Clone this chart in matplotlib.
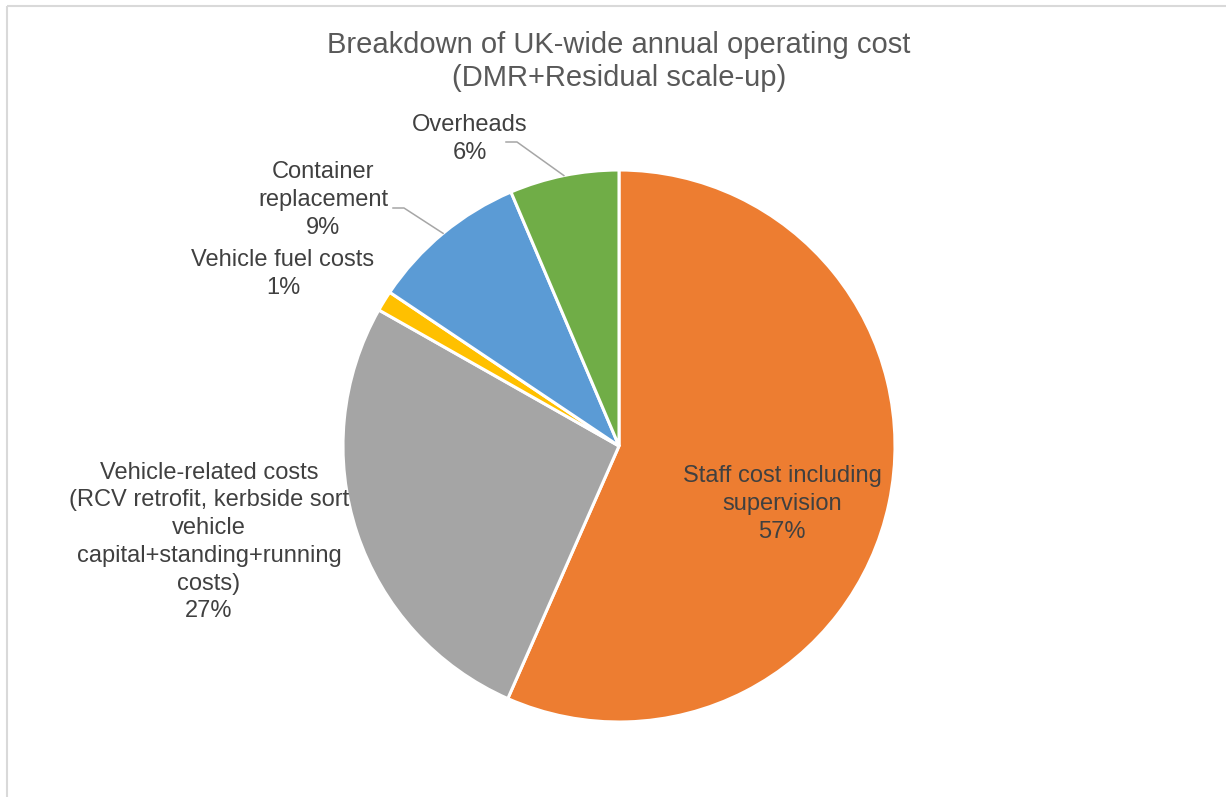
import matplotlib
matplotlib.use("Agg")
import matplotlib.pyplot as plt
from matplotlib.patches import Rectangle
import numpy as np

plt.rcParams['font.family'] = ['Liberation Sans', 'DejaVu Sans']

# share of annual operating cost, %
categories = [
    "Staff cost including\nsupervision",
    "Vehicle-related costs\n(RCV retrofit, kerbside sort\nvehicle\ncapital+standing+running\ncosts)",
    "Vehicle fuel costs",
    "Container\nreplacement",
    "Overheads",
]
shares = [56.6, 26.6, 1.2, 9.2, 6.4]
colors = ["#ED7D31", "#A5A5A5", "#FFC000", "#5B9BD5", "#70AD47"]

W, H = 1226, 797
cx, cy, R = 619, 446, 276  # pie centre / radius in pixels

# label centres (pixels) and whether a leader line is drawn
label_pos = [(782, 504), (209, 542), (283, 274), (323, 200), (470, 139)]
leader_start = {3: (393, 208), 4: (506, 142)}

fig = plt.figure(figsize=(W / 100, H / 100), dpi=100)
fig.patch.set_facecolor("white")

# light chart-area border
fig.add_artist(Rectangle((6.5 / W, 1 - 5.5 / H), 1.2, -1.2,
                         transform=fig.transFigure, fill=False,
                         edgecolor="#D9D9D9", linewidth=1.5))

ax = fig.add_axes([(cx - R) / W, (H - cy - R) / H, 2 * R / W, 2 * R / H])
wedges, _ = ax.pie(shares, colors=colors, startangle=90, counterclock=False,
                   radius=1, wedgeprops=dict(edgecolor="white", linewidth=2.2))
ax.set_xlim(-1, 1)
ax.set_ylim(-1, 1)
ax.axis("off")


def px_to_data(px, py):
    return (px - cx) / R, (cy - py) / R


for i, (name, val) in enumerate(zip(categories, shares)):
    lx, ly = label_pos[i]
    fig.text(lx / W, 1 - ly / H, f"{name}\n{val:.0f}%", ha="center",
             va="center", multialignment="center", fontsize=17,
             color="#404040", linespacing=1.34)
    if i in leader_start:
        w = wedges[i]
        mid = np.deg2rad((w.theta1 + w.theta2) / 2)
        ex, ey = np.cos(mid), np.sin(mid)
        sx, sy = px_to_data(*leader_start[i])
        kx = sx + 11 / R
        ax.plot([sx, kx, ex], [sy, sy, ey], color="#A6A6A6", lw=1.1,
                clip_on=False)

fig.text(cx / W, 1 - 61.5 / H,
         "Breakdown of UK-wide annual operating cost\n(DMR+Residual scale-up)",
         ha="center", va="center", fontsize=21, color="#595959",
         linespacing=1.25)

fig.savefig("out.png", dpi=100)
